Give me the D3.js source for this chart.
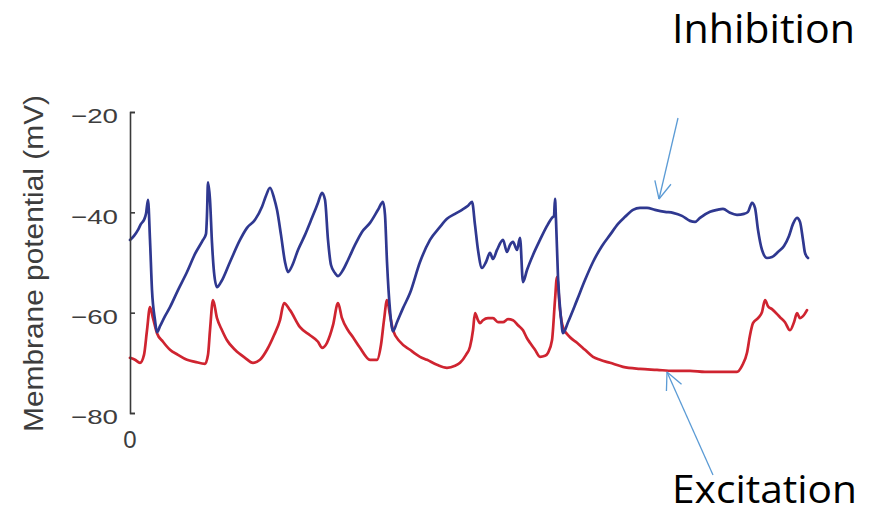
<!DOCTYPE html>
<html><head><meta charset="utf-8">
<script src="https://cdn.jsdelivr.net/npm/d3@7"></script>
<style>html,body{margin:0;padding:0;background:#fff;}svg{display:block;}</style>
</head><body>
<svg id="chart" width="874" height="514"></svg>
<script>
// time in ms, membrane potential in mV
const inhibitionT = [0,40,80,110,140,160,180,200,220,250,270,300,350,400,480,570,650,730,760,770,780,800,820,840,870,910,1000,1100,1170,1250,1320,1360,1400,1440,1470,1510,1550,1580,1620,1680,1750,1820,1880,1920,1950,1980,2010,2050,2080,2130,2180,2250,2320,2400,2480,2530,2550,2570,2600,2630,2670,2730,2800,2900,3000,3100,3170,3250,3320,3380,3420,3450,3480,3520,3560,3600,3630,3670,3730,3770,3800,3830,3870,3900,3930,3970,4030,4100,4170,4220,4240,4250,4260,4280,4310,4330,4380,4470,4550,4630,4720,4800,4880,4950,5030,5100,5170,5250,5350,5430,5520,5600,5650,5700,5800,5870,5930,6000,6070,6140,6180,6220,6250,6280,6320,6370,6420,6480,6540,6590,6630,6670,6700,6730,6750,6780];
const inhibitionV = [-45.5,-44.7,-43.5,-42.3,-41.5,-40.3,-37.5,-45.5,-55.5,-61.5,-63.9,-62.7,-60.7,-58.9,-55.5,-51.9,-48.3,-45.5,-44.3,-40.5,-34.0,-37.5,-46.1,-51.9,-54.9,-53.9,-49.9,-45.5,-43.1,-41.5,-38.9,-36.7,-35.1,-37.1,-39.5,-44.5,-49.9,-51.9,-50.7,-47.5,-44.5,-41.1,-38.1,-36.1,-37.5,-45.5,-50.5,-52.1,-52.7,-51.5,-49.5,-46.5,-43.9,-42.1,-39.5,-37.9,-40.5,-49.9,-59.5,-63.7,-61.9,-59.1,-56.1,-49.9,-45.5,-42.9,-41.3,-40.3,-39.5,-38.7,-37.9,-42.5,-47.5,-51.1,-49.9,-48.1,-49.3,-47.5,-45.5,-47.9,-46.5,-45.9,-47.5,-45.1,-53.9,-51.5,-48.5,-45.5,-42.7,-41.1,-40.7,-37.3,-41.5,-52.9,-61.1,-64.1,-61.9,-57.5,-53.5,-49.9,-46.7,-44.5,-42.3,-40.9,-39.5,-39.1,-39.1,-39.5,-39.9,-40.1,-40.7,-41.7,-41.9,-41.1,-39.9,-39.5,-39.3,-40.1,-40.5,-40.3,-39.9,-38.1,-39.1,-43.5,-47.5,-49.1,-48.9,-47.9,-46.7,-44.7,-42.3,-41.1,-41.9,-45.5,-48.1,-49.1];
const excitationT = [0,50,100,140,170,200,230,270,330,400,480,570,650,750,780,800,830,870,920,970,1050,1150,1230,1300,1370,1440,1500,1540,1600,1700,1800,1880,1920,1970,2030,2080,2120,2180,2230,2300,2400,2470,2510,2540,2570,2600,2630,2700,2800,2900,2970,3070,3170,3250,3300,3360,3400,3430,3450,3480,3500,3530,3580,3630,3680,3730,3780,3830,3880,3930,3970,4000,4050,4100,4150,4180,4220,4250,4270,4300,4330,4400,4470,4550,4630,4700,4800,4930,5100,5270,5430,5600,5750,5900,6070,6120,6170,6200,6230,6280,6320,6350,6380,6420,6500,6550,6600,6640,6670,6700,6730,6770];
const excitationV = [-69.0,-69.4,-70.0,-68.4,-63.5,-58.9,-61.1,-64.1,-65.8,-67.4,-68.4,-69.4,-69.8,-70.2,-68.4,-63.5,-57.5,-61.1,-63.5,-65.5,-67.4,-69.0,-70.0,-69.4,-67.4,-64.5,-61.5,-58.1,-59.5,-62.9,-64.5,-65.8,-67.0,-66.0,-62.5,-58.1,-61.1,-63.5,-64.9,-67.0,-69.4,-69.4,-66.4,-61.5,-57.5,-60.5,-63.5,-65.8,-67.4,-68.8,-69.4,-70.4,-71.0,-70.6,-70.0,-68.4,-66.8,-63.5,-60.1,-61.5,-62.1,-61.5,-61.1,-61.1,-61.9,-61.9,-61.3,-61.5,-62.5,-63.5,-65.1,-66.0,-67.4,-68.8,-68.6,-68.0,-65.5,-57.5,-52.9,-59.5,-62.9,-64.9,-66.0,-67.4,-68.8,-69.4,-70.0,-70.8,-71.2,-71.4,-71.6,-71.6,-71.8,-71.8,-71.8,-70.6,-68.0,-64.5,-62.1,-61.1,-59.9,-57.5,-58.7,-59.3,-60.9,-61.9,-63.5,-61.9,-60.1,-61.1,-60.7,-59.5];
const yTicks = [-20,-40,-60,-80];
const xTickLabel = "0";
const yTitle = "Membrane potential (mV)";
const labelInhibition = "Inhibition";
const labelExcitation = "Excitation";

const svg = d3.select("#chart");
const x = d3.scaleLinear().domain([0, 6800]).range([130, 810]);
const y = d3.scaleLinear().domain([-20, -80]).range([112, 413]);

const textFont = "Liberation Sans, Arial, Helvetica, sans-serif";
const textColor = "#3d3d3d";

// traces
const line = d3.line().x(d => x(d[0])).y(d => y(d[1])).curve(d3.curveMonotoneX);
const inh = inhibitionT.map((t, i) => [t, inhibitionV[i]]);
const exc = excitationT.map((t, i) => [t, excitationV[i]]);

svg.append("path").datum(exc).attr("d", line)
  .attr("fill", "none").attr("stroke", "#cf2430").attr("stroke-width", 2.7)
  .attr("stroke-linejoin", "round").attr("stroke-linecap", "round");
svg.append("path").datum(inh).attr("d", line)
  .attr("fill", "none").attr("stroke", "#2f3890").attr("stroke-width", 2.7)
  .attr("stroke-linejoin", "round").attr("stroke-linecap", "round");

// y axis
const yAxis = d3.axisLeft(y).tickValues(yTicks)
  .tickSizeInner(-5).tickSizeOuter(-5).tickPadding(12)
  .tickFormat(d => "\u2212" + Math.abs(d));
const gy = svg.append("g").attr("transform", "translate(130,0)").call(yAxis);
gy.attr("font-family", textFont);
gy.select(".domain").attr("stroke", "#3a3a3a").attr("stroke-width", 1.6);
gy.selectAll(".tick line").attr("stroke", "#3a3a3a").attr("stroke-width", 1.6);
gy.selectAll(".tick text")
  .attr("font-family", textFont)
  .attr("font-size", 21).attr("fill", textColor)
  .attr("dy", "0.52em")
  .attr("textLength", 47).attr("lengthAdjust", "spacingAndGlyphs");

// x "0" label
svg.append("text").attr("x", x(0)).attr("y", 448)
  .attr("text-anchor", "middle")
  .attr("font-family", textFont)
  .attr("font-size", 24).attr("fill", textColor).text(xTickLabel);

// y title
svg.append("text")
  .attr("transform", "translate(43,263.5) rotate(-90)")
  .attr("text-anchor", "middle")
  .attr("font-family", textFont)
  .attr("font-size", 27).attr("fill", textColor)
  .attr("textLength", 337).attr("lengthAdjust", "spacingAndGlyphs")
  .text(yTitle);

// annotations
const arrowColor = "#5b9bd5";
function arrow(x1, y1, x2, y2) {
  const g = svg.append("g").attr("stroke", arrowColor).attr("stroke-width", 1.3).attr("fill", "none");
  g.append("line").attr("x1", x1).attr("y1", y1).attr("x2", x2).attr("y2", y2);
  const ang = Math.atan2(y2 - y1, x2 - x1);
  const L = 19, a = 0.45;
  [ang + Math.PI - a, ang + Math.PI + a].forEach(th => {
    g.append("line").attr("x1", x2).attr("y1", y2)
      .attr("x2", x2 + L * Math.cos(th)).attr("y2", y2 + L * Math.sin(th));
  });
}
arrow(678, 118, 659, 199);
arrow(713, 475, 667, 372);

svg.append("text").attr("x", 672).attr("y", 43)
  .attr("font-family", "Open Sans, Noto Sans, sans-serif")
  .attr("font-size", 41).attr("fill", "#000")
  .attr("textLength", 183).attr("lengthAdjust", "spacingAndGlyphs")
  .text(labelInhibition);
svg.append("text").attr("x", 672).attr("y", 503)
  .attr("font-family", "Open Sans, Noto Sans, sans-serif")
  .attr("font-size", 39).attr("fill", "#000")
  .attr("textLength", 185).attr("lengthAdjust", "spacingAndGlyphs")
  .text(labelExcitation);
</script>
</body></html>
